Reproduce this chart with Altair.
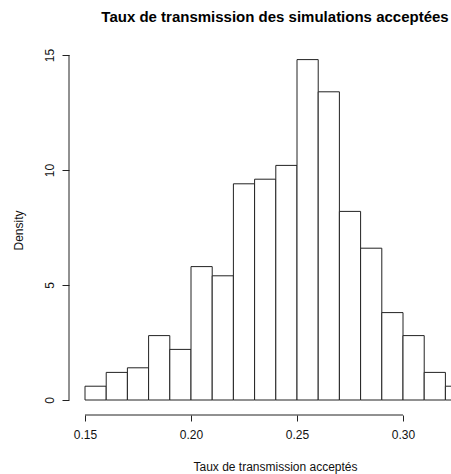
import altair as alt
import pandas as pd

bin_start = [0.15, 0.16, 0.17, 0.18, 0.19, 0.20, 0.21, 0.22, 0.23,
             0.24, 0.25, 0.26, 0.27, 0.28, 0.29, 0.30, 0.31, 0.32]
density = [0.6, 1.2, 1.4, 2.8, 2.2, 5.8, 5.4, 9.4, 9.6,
           10.2, 14.8, 13.4, 8.2, 6.6, 3.8, 2.8, 1.2, 0.6]
bin_width = 0.01
x_ticks = [0.15, 0.20, 0.25, 0.30]
y_ticks = [0, 5, 10, 15]

df = pd.DataFrame({
    "start": bin_start,
    "end": [round(s + bin_width, 2) for s in bin_start],
    "density": density,
})

FONT = "Liberation Sans"
LINE = "#222222"
W, H = 382, 375
x_dom = [0.14245, 0.32264]
y_dom = [-0.652, 15.652]

xs = alt.Scale(domain=x_dom, nice=False, zero=False)
ys = alt.Scale(domain=y_dom, nice=False, zero=False)

bars = alt.Chart(df).mark_rect(
    fill="white", stroke=LINE, strokeWidth=1, clip=True
).encode(
    x=alt.X("start:Q", scale=xs, axis=alt.Axis(
        values=x_ticks, format=".2f", domain=False, grid=False,
        tickSize=6, tickColor=LINE, labelFontSize=12, labelFont=FONT,
        labelColor="#111", labelPadding=8, labelFlush=False,
        title="Taux de transmission acceptés", titleFont=FONT,
        titleFontSize=12, titleFontWeight="normal", titleColor="#111",
        titleX=206, titleY=51, titleBaseline="middle", titleAlign="center")),
    x2="end:Q",
    y=alt.Y("density:Q", scale=ys, axis=alt.Axis(
        values=y_ticks, domain=False, grid=False, tickSize=7,
        tickColor=LINE, labelFontSize=12, labelFont=FONT, labelColor="#111",
        labelAngle=270, labelAlign="center", labelBaseline="alphabetic",
        labelPadding=9, labelFlush=False,
        title="Density", titleFont=FONT, titleFontSize=12,
        titleFontWeight="normal", titleColor="#111", titleAngle=270,
        titleX=-51, titleY=190, titleBaseline="middle", titleAlign="center")),
    y2=alt.datum(0),
)

x_line = alt.Chart(pd.DataFrame({"a": [x_ticks[0]], "b": [x_ticks[-1]]})).mark_rule(
    color=LINE, strokeWidth=1
).encode(x=alt.X("a:Q", scale=xs), x2="b:Q", y=alt.value(H))

y_line = alt.Chart(pd.DataFrame({"a": [y_ticks[0]], "b": [y_ticks[-1]]})).mark_rule(
    color=LINE, strokeWidth=1
).encode(y=alt.Y("a:Q", scale=ys), y2="b:Q", x=alt.value(0))

chart = alt.layer(bars, x_line, y_line).properties(
    width=W, height=H,
    title=alt.TitleParams(
        "Taux de transmission des simulations acceptées",
        font=FONT, fontSize=15, fontWeight="bold", color="#000",
        anchor="middle", dx=15, offset=15),
    autosize=alt.AutoSizeParams(type="none"),
    padding={"left": 69, "top": 40, "right": 0, "bottom": 59},
    background="white",
).configure_view(stroke=None)

chart.save("out.html", embed_options={"renderer": "svg", "actions": False})
